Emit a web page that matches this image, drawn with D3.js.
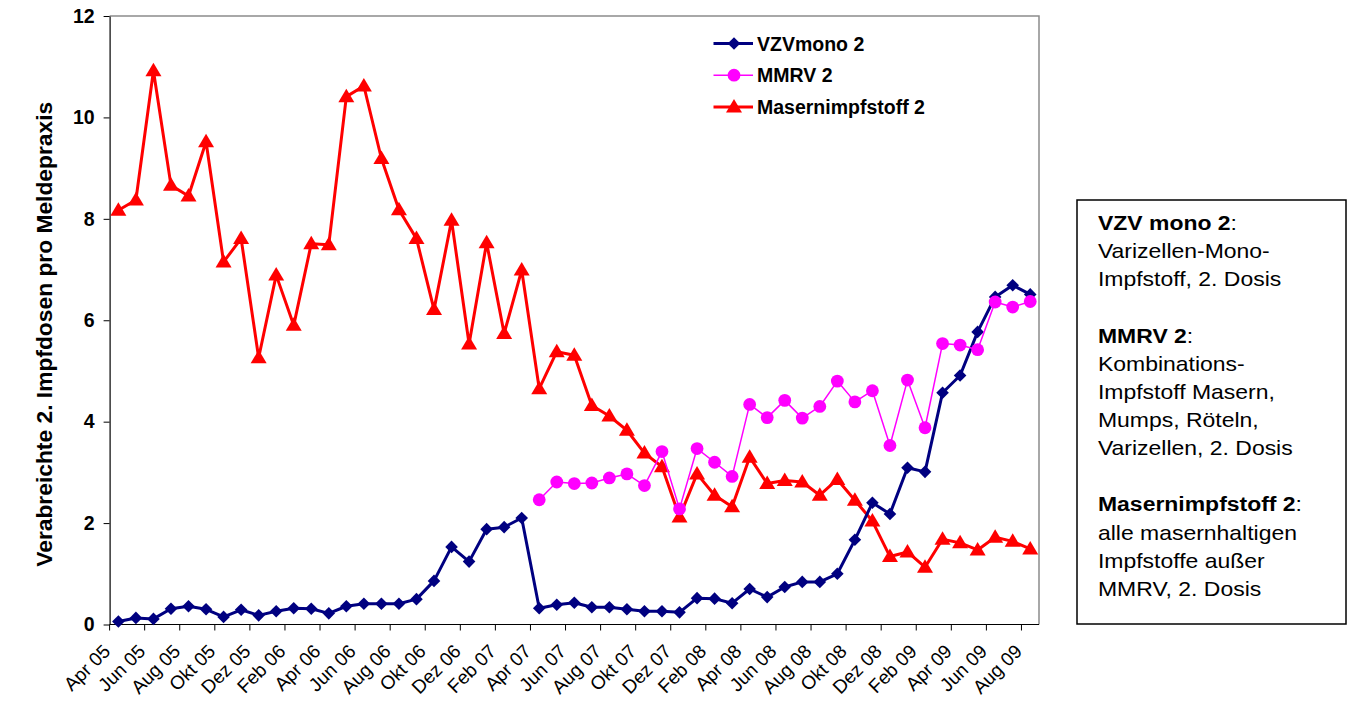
<!DOCTYPE html>
<html>
<head>
<meta charset="utf-8">
<script src="https://cdn.jsdelivr.net/npm/d3@7"></script>
<style>
  html, body { margin: 0; padding: 0; background: #fff; }
  svg { display: block; font-family: "Liberation Sans", Arial, sans-serif; }
</style>
</head>
<body>
<svg id="chart" width="1354" height="702"></svg>
<script>
const categories = [
  "Apr 05","Mai 05","Jun 05","Jul 05","Aug 05","Sep 05","Okt 05","Nov 05","Dez 05",
  "Jan 06","Feb 06","Mär 06","Apr 06","Mai 06","Jun 06","Jul 06","Aug 06","Sep 06","Okt 06","Nov 06","Dez 06",
  "Jan 07","Feb 07","Mär 07","Apr 07","Mai 07","Jun 07","Jul 07","Aug 07","Sep 07","Okt 07","Nov 07","Dez 07",
  "Jan 08","Feb 08","Mär 08","Apr 08","Mai 08","Jun 08","Jul 08","Aug 08","Sep 08","Okt 08","Nov 08","Dez 08",
  "Jan 09","Feb 09","Mär 09","Apr 09","Mai 09","Jun 09","Jul 09","Aug 09"
];
const vzvMono2 = [
  0.06, 0.13, 0.11, 0.31, 0.36, 0.30, 0.15, 0.29, 0.18, 0.26, 0.32, 0.31,
  0.22, 0.36, 0.41, 0.41, 0.41, 0.50, 0.86, 1.53, 1.24, 1.88, 1.92, 2.10,
  0.32, 0.39, 0.43, 0.34, 0.34, 0.30, 0.26, 0.26, 0.24, 0.52, 0.51, 0.42,
  0.70, 0.54, 0.74, 0.84, 0.84, 1.00, 1.67, 2.40, 2.18, 3.09, 3.01, 4.57,
  4.91, 5.77, 6.46, 6.69, 6.51
];
const mmrv2 = [
  null, null, null, null, null, null, null, null, null, null, null, null,
  null, null, null, null, null, null, null, null, null, null, null, null,
  2.46, 2.81, 2.78, 2.79, 2.89, 2.97, 2.74, 3.41, 2.28, 3.47, 3.20, 2.92,
  4.34, 4.08, 4.42, 4.07, 4.30, 4.80, 4.39, 4.61, 3.53, 4.82, 3.88, 5.54,
  5.51, 5.42, 6.36, 6.26, 6.37
];
const masern2 = [
  8.17, 8.37, 10.92, 8.66, 8.45, 9.52, 7.15, 7.61, 5.26, 6.89, 5.90, 7.51,
  7.49, 10.41, 10.62, 9.19, 8.18, 7.61, 6.21, 7.97, 5.53, 7.53, 5.74, 6.99,
  4.65, 5.38, 5.31, 4.32, 4.11, 3.83, 3.38, 3.11, 2.12, 2.97, 2.55, 2.32,
  3.30, 2.78, 2.84, 2.81, 2.55, 2.86, 2.45, 2.04, 1.34, 1.43, 1.13, 1.68,
  1.61, 1.47, 1.72, 1.64, 1.49
];
const yTicks = [0, 2, 4, 6, 8, 10, 12];
const seriesNames = ["VZVmono 2", "MMRV 2", "Masernimpfstoff 2"];
const yTitle = "Verabreichte 2. Impfdosen pro Meldepraxis";
const noteLines = [
  [["VZV mono 2", true], [":", false]],
  [["Varizellen-Mono-", false]],
  [["Impfstoff, 2. Dosis", false]],
  null,
  [["MMRV 2", true], [":", false]],
  [["Kombinations-", false]],
  [["Impfstoff Masern,", false]],
  [["Mumps, Röteln,", false]],
  [["Varizellen, 2. Dosis", false]],
  null,
  [["Masernimpfstoff 2", true], [":", false]],
  [["alle masernhaltigen", false]],
  [["Impfstoffe außer", false]],
  [["MMRV, 2. Dosis", false]]
];

const svg = d3.select("#chart");
const plot = { left: 109.6, right: 1039, top: 16, bottom: 624.5 };

const x = d3.scaleBand().domain(categories).range([plot.left, plot.right]).padding(0);
const cx = c => x(c) + x.bandwidth() / 2;
const y = d3.scaleLinear().domain([0, 12]).range([plot.bottom, plot.top]);

// plot frame (top & right gray)
svg.append("path")
  .attr("d", `M${plot.left},${plot.top}H${plot.right}V${plot.bottom}`)
  .attr("fill", "none").attr("stroke", "#8c8c8c").attr("stroke-width", 1.5);

// y axis
const yAxis = svg.append("g")
  .attr("transform", `translate(${plot.left},0)`)
  .call(d3.axisLeft(y).tickValues(yTicks).tickSize(6).tickSizeOuter(0).tickPadding(9));
yAxis.select(".domain").attr("stroke", "#000").attr("stroke-width", 1.2);
yAxis.selectAll(".tick line").attr("stroke", "#000");
yAxis.selectAll(".tick text")
  .attr("font-family", "Liberation Sans, Arial, sans-serif")
  .attr("font-size", 19.5).attr("font-weight", "bold").attr("fill", "#000");

// x axis line
svg.append("line")
  .attr("x1", plot.left).attr("x2", plot.right)
  .attr("y1", plot.bottom).attr("y2", plot.bottom)
  .attr("stroke", "#000").attr("stroke-width", 1.2);

const labelCats = categories.filter((c, i) => i % 2 === 0);
svg.append("g").selectAll("line").data(labelCats).join("line")
  .attr("x1", c => x(c)).attr("x2", c => x(c))
  .attr("y1", plot.bottom).attr("y2", plot.bottom + 6)
  .attr("stroke", "#000").attr("stroke-width", 1);

svg.append("g").selectAll("text").data(labelCats).join("text")
  .attr("transform", c => `translate(${cx(c) - 7},${plot.bottom + 28}) rotate(-45)`)
  .attr("text-anchor", "end")
  .attr("font-size", 19)
  .attr("fill", "#000")
  .text(c => c);

// y title
svg.append("text")
  .attr("transform", `translate(52,${(plot.top + plot.bottom) / 2 + 14}) rotate(-90)`)
  .attr("text-anchor", "middle")
  .attr("font-size", 22.8).attr("font-weight", "bold")
  .text(yTitle);

// series
const series = [
  { name: seriesNames[2], values: masern2, color: "#ff0000", width: 3, marker: "triangle" },
  { name: seriesNames[0], values: vzvMono2, color: "#000080", width: 3, marker: "diamond" },
  { name: seriesNames[1], values: mmrv2, color: "#ff00ff", width: 1.5, marker: "circle" }
];
const symbolPath = {
  triangle: "M0,-8L8,5.5L-8,5.5Z",
  diamond: "M0,-6.3L6.3,0L0,6.3L-6.3,0Z"
};

const line = d3.line()
  .defined(d => d.v !== null)
  .x(d => cx(d.c))
  .y(d => y(d.v));

series.forEach(s => {
  const pts = categories.map((c, i) => ({ c, v: s.values[i] }));
  const g = svg.append("g");
  g.append("path").datum(pts)
    .attr("d", line)
    .attr("fill", "none").attr("stroke", s.color)
    .attr("stroke-width", s.width).attr("stroke-linejoin", "round");
  const valid = pts.filter(d => d.v !== null);
  if (s.marker === "circle") {
    g.selectAll("circle").data(valid).join("circle")
      .attr("cx", d => cx(d.c)).attr("cy", d => y(d.v)).attr("r", 6.4)
      .attr("fill", s.color);
  } else {
    g.selectAll("path.m").data(valid).join("path").attr("class", "m")
      .attr("d", symbolPath[s.marker])
      .attr("transform", d => `translate(${cx(d.c)},${y(d.v)})`)
      .attr("fill", s.color);
  }
});

// legend
const legendItems = [series[1], series[2], series[0]];
const lg = svg.append("g");
legendItems.forEach((s, i) => {
  const ly = 43.5 + i * 31.7;
  lg.append("line").attr("x1", 713.5).attr("x2", 753).attr("y1", ly).attr("y2", ly)
    .attr("stroke", s.color).attr("stroke-width", s.width);
  if (s.marker === "circle") {
    lg.append("circle").attr("cx", 734).attr("cy", ly).attr("r", 6.4).attr("fill", s.color);
  } else {
    lg.append("path").attr("d", symbolPath[s.marker])
      .attr("transform", `translate(734,${ly})`).attr("fill", s.color);
  }
  lg.append("text").attr("x", 757).attr("y", ly + 7)
    .attr("font-size", 19.5).attr("font-weight", "bold").attr("fill", "#000")
    .text(s.name);
});

// note box
svg.append("rect")
  .attr("x", 1077).attr("y", 200).attr("width", 269).attr("height", 424)
  .attr("fill", "#fff").attr("stroke", "#000").attr("stroke-width", 1.5);
const ng = svg.append("g").attr("transform", "translate(1098,0) scale(1.12,1)");
noteLines.forEach((ln, i) => {
  if (!ln) return;
  const t = ng.append("text").attr("x", 0).attr("y", 230 + i * 28.15)
    .attr("font-size", 20.5).attr("fill", "#000");
  ln.forEach(([txt, bold]) => {
    t.append("tspan").attr("font-weight", bold ? "bold" : "normal").text(txt);
  });
});
</script>
</body>
</html>
